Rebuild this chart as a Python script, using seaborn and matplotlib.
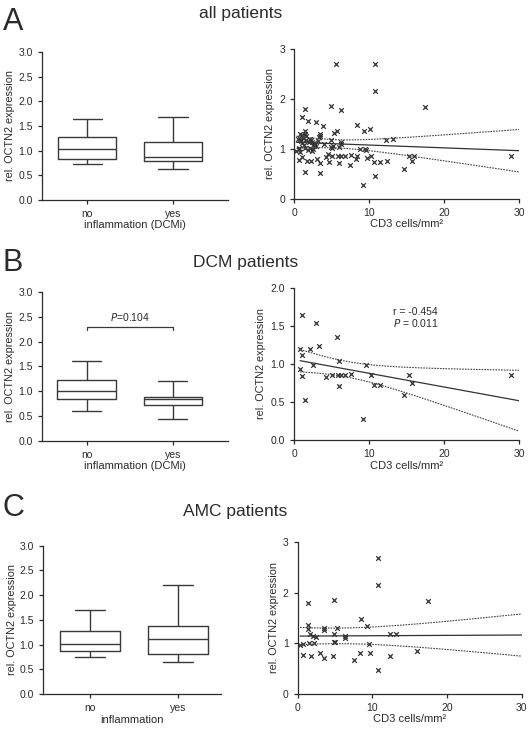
import numpy as np
import pandas as pd
import matplotlib
matplotlib.use("Agg")
import matplotlib.pyplot as plt
import seaborn as sns

# five-number summaries (min, q1, median, q3, max)
groups = ["no", "yes"]
box_all_no = [0.73, 0.84, 1.03, 1.28, 1.65]
box_all_yes = [0.63, 0.78, 0.88, 1.18, 1.69]
box_dcm_no = [0.60, 0.84, 1.00, 1.23, 1.61]
box_dcm_yes = [0.45, 0.73, 0.84, 0.89, 1.20]
box_amc_no = [0.75, 0.87, 1.02, 1.27, 1.70]
box_amc_yes = [0.65, 0.82, 1.12, 1.38, 2.20]

# CD3 cells/mm2 vs rel. OCTN2 expression, DCM patients
dcm_cd3 = [1.1, 2.9, 5.7, 3.3, 0.8, 2.1, 1.1, 6.0, 2.5, 9.6, 0.8, 1.1, 4.3, 5.0,
           5.8, 6.3, 6.8, 7.6, 10.2, 6.0, 10.6, 11.5, 1.4, 9.2, 14.6, 15.3, 15.7, 29.0]
dcm_octn2 = [1.64, 1.53, 1.35, 1.24, 1.19, 1.20, 1.12, 1.04, 0.99, 0.98, 0.93, 0.84, 0.83, 0.86,
             0.86, 0.86, 0.85, 0.87, 0.85, 0.71, 0.73, 0.73, 0.53, 0.28, 0.59, 0.85, 0.75, 0.86]

# AMC patients
amc_cd3 = [10.8, 10.8, 1.4, 4.9, 8.4, 9.3, 1.4, 1.4, 3.5, 3.5, 5.3, 1.6, 2.0, 2.4, 4.9, 6.3,
           6.3, 12.3, 13.2, 0.3, 0.7, 1.5, 2.1, 4.9, 5.0, 9.5, 0.7, 1.7, 3.0, 3.5, 4.7, 7.5,
           8.3, 9.7, 12.4, 10.8, 17.5, 16.0]
amc_octn2 = [2.70, 2.15, 1.80, 1.85, 1.48, 1.35, 1.36, 1.29, 1.30, 1.26, 1.31, 1.18, 1.14, 1.13, 1.18, 1.14,
             1.10, 1.18, 1.19, 0.96, 0.99, 1.01, 1.01, 1.03, 1.02, 0.99, 0.77, 0.75, 0.80, 0.71, 0.74, 0.67,
             0.80, 0.81, 0.75, 0.46, 1.84, 0.85]
# AMC regression as drawn: intercept, slope, x of narrowest band, band half-width there, band growth
amc_fit = [1.14, 0.0007, 5.0, 0.155, 0.0156]

# patients only in the "all patients" panel (incl. the crowded cluster near the origin)
other_cd3 = [5.6, 6.2, 1.9, 3.8, 10.1, 0.8, 2.2, 3.4, 8.8, 8.4, 4.5, 2.6, 1.2,
             0.5, 0.9, 1.3, 1.6, 2.3, 2.7, 0.6, 1.8, 2.9, 3.2, 1.0, 2.4, 4.0, 5.2]
other_octn2 = [2.70, 1.78, 1.56, 1.45, 1.39, 1.30, 0.76, 0.51, 0.99, 0.85, 0.90, 1.05, 1.22,
               1.20, 1.15, 1.08, 1.25, 1.18, 1.12, 1.02, 0.98, 1.05, 1.15, 1.28, 0.95, 1.10, 1.05]

all_cd3 = dcm_cd3 + amc_cd3 + other_cd3
all_octn2 = dcm_octn2 + amc_octn2 + other_octn2

sns.set_style("ticks")
plt.rcParams["font.family"] = ["Liberation Sans", "DejaVu Sans"]
ink = "#2b2b2b"
plt.rcParams.update({
    "axes.edgecolor": ink, "axes.linewidth": 0.9,
    "xtick.color": ink, "ytick.color": ink,
    "xtick.major.size": 3, "ytick.major.size": 3,
    "xtick.major.width": 0.9, "ytick.major.width": 0.9,
    "xtick.labelsize": 7.5, "ytick.labelsize": 7.5,
    "text.color": ink, "axes.labelcolor": ink,
})

fig = plt.figure(figsize=(5.29, 7.30), dpi=100)


def box_panel(rect, no_vals, yes_vals, xlabel, xlim):
    ax = fig.add_axes(rect)
    df = pd.DataFrame({"group": ["no"] * len(no_vals) + ["yes"] * len(yes_vals),
                       "value": no_vals + yes_vals})
    sns.boxplot(data=df, x="group", y="value", order=groups, whis=(0, 100),
                width=0.68, fill=False, color="#3a3a3a", linewidth=1.0, ax=ax)
    ax.set_ylim(0, 3.0)
    ax.set_yticks(np.arange(0, 3.01, 0.5))
    ax.set_yticklabels([f"{v:.1f}" for v in np.arange(0, 3.01, 0.5)])
    ax.set_xlim(*xlim)
    ax.set_xlabel(xlabel, fontsize=8, labelpad=1)
    ax.set_ylabel("rel. OCTN2 expression", fontsize=7.8, labelpad=2)
    sns.despine(ax=ax)
    return ax


def draw_fit(ax, xs, yhat, half):
    ax.plot(xs, yhat, color="#333333", lw=0.9)
    ax.plot(xs, yhat + half, color="#444444", lw=0.8, ls=(0, (1.5, 1)))
    ax.plot(xs, yhat - half, color="#444444", lw=0.8, ls=(0, (1.5, 1)))


def scatter_panel(rect, x, y, ylim, yticks, ylabels, fit=None):
    ax = fig.add_axes(rect)
    sns.scatterplot(x=x, y=y, marker="x", s=11, color="#333333", linewidth=0.9, ax=ax)
    xa = np.asarray(x)
    ya = np.asarray(y)
    xs = np.linspace(xa.min(), 30, 100)
    if fit is None:
        n = len(xa)
        slope, intercept = np.polyfit(xa, ya, 1)
        resid = ya - (intercept + slope * xa)
        s = np.sqrt(np.sum(resid ** 2) / (n - 2))
        sxx = np.sum((xa - xa.mean()) ** 2)
        half = 2.0 * s * np.sqrt(1 / n + (xs - xa.mean()) ** 2 / sxx)
    else:
        intercept, slope, xc, h0, k = fit
        half = np.sqrt(h0 ** 2 + (k * (xs - xc)) ** 2)
    draw_fit(ax, xs, intercept + slope * xs, half)
    ax.set_xlim(0, 30)
    ax.set_xticks([0, 10, 20, 30])
    ax.set_ylim(*ylim)
    ax.set_yticks(yticks)
    ax.set_yticklabels(ylabels)
    ax.set_xlabel("CD3 cells/mm²", fontsize=8, labelpad=1)
    ax.set_ylabel("rel. OCTN2 expression", fontsize=7.8, labelpad=3)
    sns.despine(ax=ax)
    return ax


# A: all patients
box_panel([0.079, 0.726, 0.352, 0.203], box_all_no, box_all_yes,
          "inflammation (DCMi)", (-0.53, 1.64))
scatter_panel([0.556, 0.728, 0.425, 0.205], all_cd3, all_octn2,
              (0, 3), [0, 1, 2, 3], ["0", "1", "2", "3"])
fig.text(0.005, 0.99, "A", fontsize=22, va="top", ha="left")
fig.text(0.455, 0.992, "all patients", fontsize=12.5, va="top", ha="center")

# B: DCM patients
axb = box_panel([0.079, 0.396, 0.352, 0.204], box_dcm_no, box_dcm_yes,
                "inflammation (DCMi)", (-0.52, 1.64))
axb.plot([0, 0, 1, 1], [2.24, 2.3, 2.3, 2.24], color="#3a3a3a", lw=0.9)
axb.text(0.5, 2.38, r"$\it{P}$=0.104", fontsize=7.5, ha="center", va="bottom")
axs = scatter_panel([0.556, 0.397, 0.425, 0.209], dcm_cd3, dcm_octn2,
                    (0, 2.0), [0, 0.5, 1.0, 1.5, 2.0], ["0.0", "0.5", "1.0", "1.5", "2.0"])
axs.text(13.2, 1.68, "r = -0.454", fontsize=7.5, ha="left", va="center")
axs.text(13.2, 1.53, r"$\it{P}$ = 0.011", fontsize=7.5, ha="left", va="center")
fig.text(0.005, 0.66, "B", fontsize=22, va="top", ha="left")
fig.text(0.465, 0.651, "DCM patients", fontsize=12.5, va="top", ha="center")

# C: AMC patients
box_panel([0.081, 0.049, 0.3365, 0.2036], box_amc_no, box_amc_yes,
          "inflammation", (-0.53, 1.49))
scatter_panel([0.563, 0.050, 0.4234, 0.207], amc_cd3, amc_octn2,
              (0, 3), [0, 1, 2, 3], ["0", "1", "2", "3"], fit=amc_fit)
fig.text(0.005, 0.325, "C", fontsize=22, va="top", ha="left")
fig.text(0.445, 0.309, "AMC patients", fontsize=12.5, va="top", ha="center")

fig.savefig("out.png", dpi=100)
